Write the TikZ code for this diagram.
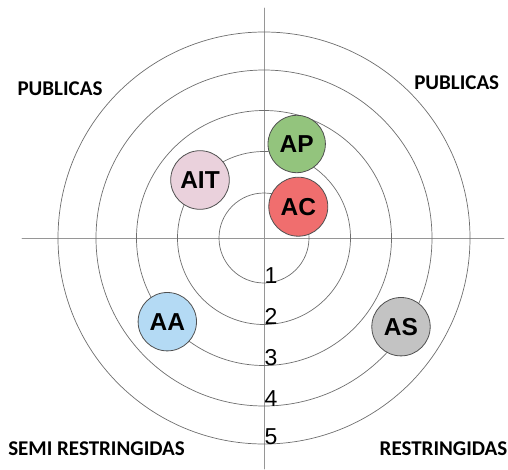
\documentclass[tikz,border=0pt]{standalone}
\usepackage{fontspec}
\setmainfont{Liberation Sans}
\newfontfamily\zonefont{Carlito}
\usetikzlibrary{positioning}
\definecolor{ringgray}{RGB}{110,110,110}
\definecolor{axisgray}{RGB}{150,150,150}
\definecolor{bubbleedge}{RGB}{80,80,80}
\definecolor{bubblegreen}{RGB}{147,196,125}
\definecolor{bubblered}{RGB}{240,110,110}
\definecolor{bubblepink}{RGB}{234,209,220}
\definecolor{bubbleblue}{RGB}{180,218,244}
\definecolor{bubblegray}{RGB}{195,195,195}

\begin{document}
\begin{tikzpicture}[x=1pt,y=1pt,line cap=round,
 bubble/.style={circle,draw=bubbleedge,line width=.8pt,inner sep=0pt,
  font=\fontsize{24.5}{24.5}\selectfont\bfseries},
 zone/.style={font=\zonefont\fontsize{21}{21}\selectfont\bfseries,inner sep=0pt},
 ringnum/.style={font=\fontsize{23}{23}\selectfont,inner sep=0pt,anchor=base west}]
\useasboundingbox (-264,-231) rectangle (244,238);
% axes
\coordinate (west) at (-242,0);
\coordinate (east) at (240,0);
\coordinate (north) at (0,230);
\coordinate (south) at (0,-231);
\draw[axisgray,line width=.9pt] (west)--(east);
\draw[axisgray,line width=.9pt] (north)--(south);
% rings and their numbers
\foreach \r/\n in {45/1,86.5/2,127.5/3,168/4,206/5}{
 \draw[ringgray,line width=.7pt] (0,0) circle (\r);
 \node[ringnum] (num\n) at (0.5,-\r) {\n};
}
% bubbles
\node[bubble,fill=bubblegreen,minimum size=57.4pt] (ap) at (32.7,94) {AP};
\node[bubble,fill=bubblered,minimum size=59pt] (ac) at (34.3,31.3) {AC};
\node[bubble,fill=bubblepink,minimum size=58.6pt] (ait) at (-64,58) {AIT};
\node[bubble,fill=bubbleblue,minimum size=58.4pt] (aa) at (-96.7,-83.7) {AA};
\node[bubble,fill=bubblegray,minimum size=58.4pt] (as) at (137,-88.7) {AS};
% zone labels
\node[zone] (pubwest) at (-204,149) {PUBLICAS};
\node[zone] (pubeast) at (192.7,155.5) {PUBLICAS};
\node[zone] (semi) at (-167.5,-210.5) {SEMI RESTRINGIDAS};
\node[zone] (restr) at (179.5,-210.5) {RESTRINGIDAS};
\end{tikzpicture}
\end{document}
